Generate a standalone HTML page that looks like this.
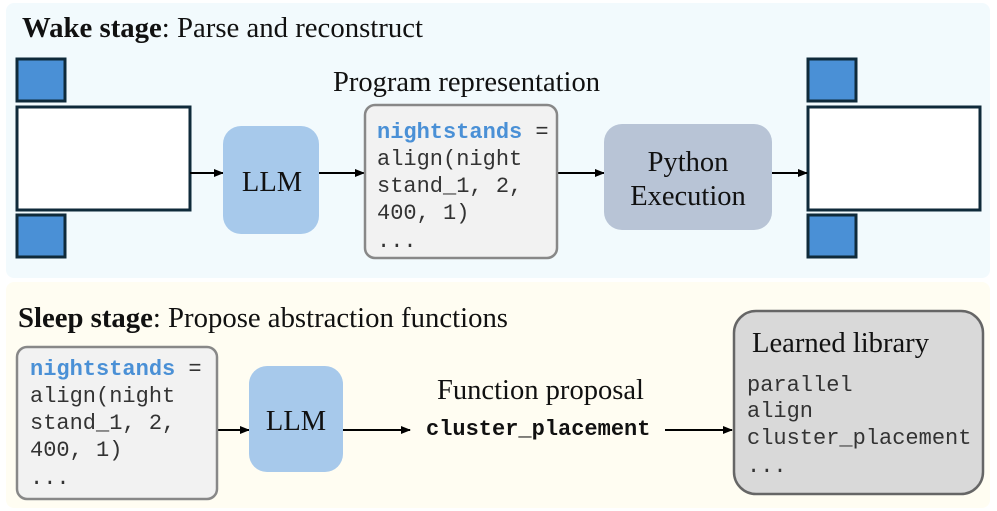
<!DOCTYPE html>
<html><head><meta charset="utf-8"><style>
html,body{margin:0;padding:0;background:#fff;}
svg{display:block}
.s{font-family:"Liberation Serif",serif;fill:#111;font-size:28.5px}
.m{font-family:"Liberation Mono",monospace;fill:#333;font-size:22px}
</style></head><body>
<svg width="997" height="511" viewBox="0 0 997 511" xmlns="http://www.w3.org/2000/svg">
<defs><marker id="a" markerWidth="10" markerHeight="10" refX="9" refY="5" orient="auto" markerUnits="userSpaceOnUse"><path d="M0,1 L10,5 L0,9 z" fill="#000"/></marker></defs>
<rect x="6" y="3" width="984" height="275" rx="8" fill="#f2fafd"/>
<rect x="6" y="282" width="984" height="226" rx="8" fill="#fffdf2"/>
<text x="22" y="37" class="s" textLength="401" lengthAdjust="spacingAndGlyphs"><tspan font-weight="bold">Wake stage</tspan>: Parse and reconstruct</text>
<g fill="#4a90d6" stroke="#0f2a3a" stroke-width="3">
<rect x="17" y="59" width="48" height="42"/><rect x="17" y="215" width="48" height="42"/>
<rect x="808" y="59" width="48" height="42"/><rect x="808" y="215" width="48" height="42"/>
</g>
<g fill="#fff" stroke="#0f2a3a" stroke-width="3">
<rect x="17" y="107" width="173" height="103"/><rect x="808" y="107" width="172" height="103"/>
</g>
<g stroke="#000" stroke-width="2" marker-end="url(#a)">
<line x1="190" y1="173" x2="223" y2="173"/><line x1="318" y1="173" x2="364" y2="173"/>
<line x1="557" y1="173" x2="604" y2="173"/><line x1="772" y1="173" x2="807" y2="173"/>
<line x1="217" y1="430" x2="249" y2="430"/><line x1="343" y1="430" x2="410" y2="430"/>
<line x1="665" y1="430" x2="732" y2="430"/>
</g>
<rect x="223" y="126" width="96" height="108" rx="18" fill="#a7c9eb"/>
<text x="272" y="191" class="s" text-anchor="middle">LLM</text>
<text x="333" y="91" class="s" textLength="267" lengthAdjust="spacingAndGlyphs">Program representation</text>
<rect x="365" y="105" width="192" height="153" rx="10" fill="#f2f2f2" stroke="#888" stroke-width="2.5"/>
<text class="m"><tspan x="377" y="138" fill="#4a90d6" font-weight="bold">nightstands</tspan><tspan> =</tspan><tspan x="377" y="165">align(night</tspan><tspan x="377" y="192">stand_1, 2,</tspan><tspan x="377" y="219">400, 1)</tspan><tspan x="377" y="247">...</tspan></text>
<rect x="604" y="124" width="168" height="106" rx="18" fill="#b8c4d6"/>
<text x="688" y="171" class="s" text-anchor="middle">Python</text>
<text x="688" y="205" class="s" text-anchor="middle">Execution</text>
<text x="18" y="327" class="s" textLength="490" lengthAdjust="spacingAndGlyphs"><tspan font-weight="bold">Sleep stage</tspan>: Propose abstraction functions</text>
<rect x="17" y="347" width="200" height="152" rx="10" fill="#f2f2f2" stroke="#888" stroke-width="2.5"/>
<text class="m"><tspan x="30" y="375" fill="#4a90d6" font-weight="bold">nightstands</tspan><tspan> =</tspan><tspan x="30" y="402">align(night</tspan><tspan x="30" y="429">stand_1, 2,</tspan><tspan x="30" y="456">400, 1)</tspan><tspan x="30" y="484">...</tspan></text>
<rect x="249" y="366" width="94" height="106" rx="18" fill="#a7c9eb"/>
<text x="296" y="430" class="s" text-anchor="middle">LLM</text>
<text x="437" y="399" class="s" textLength="207" lengthAdjust="spacingAndGlyphs">Function proposal</text>
<text x="426" y="435" font-family="Liberation Mono,monospace" font-weight="bold" font-size="22" fill="#111">cluster_placement</text>
<rect x="734" y="311" width="249" height="183" rx="22" fill="#d9d9d9" stroke="#666" stroke-width="2.5"/>
<text x="752" y="352" class="s" textLength="177" lengthAdjust="spacingAndGlyphs">Learned library</text>
<text class="m"><tspan x="747" y="391">parallel</tspan><tspan x="747" y="417">align</tspan><tspan x="747" y="444">cluster_placement</tspan><tspan x="747" y="472">...</tspan></text>
</svg>
</body></html>
